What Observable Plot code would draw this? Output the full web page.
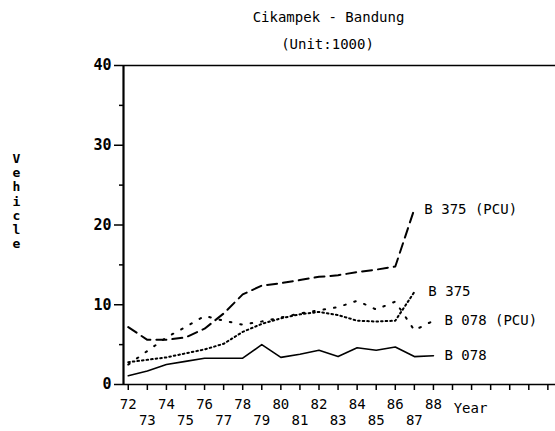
<!DOCTYPE html>
<html><head><meta charset="utf-8">
<script src="https://cdn.jsdelivr.net/npm/d3@7"></script>
<script src="https://cdn.jsdelivr.net/npm/@observablehq/plot@0.6"></script>
<style>
body{margin:0;background:#fff}
#chart svg{font-family:"DejaVu Sans Mono",monospace}
</style>
</head><body><div id="chart"></div>
<script>
const years = [72,73,74,75,76,77,78,79,80,81,82,83,84,85,86,87,88];
const b078    = [1.1,1.7,2.5,2.9,3.3,3.3,3.3,5.0,3.4,3.8,4.3,3.5,4.6,4.3,4.7,3.5,3.6];
const b078pcu = [2.5,4.2,5.9,7.2,8.6,8.0,7.5,7.9,8.4,8.9,9.3,9.7,10.5,9.4,10.4,6.8,8.0];
const b375    = [2.8,3.1,3.4,3.9,4.4,5.1,6.6,7.6,8.3,8.8,9.1,8.7,8.0,7.9,8.0,11.6];
const b375pcu = [7.2,5.6,5.6,5.9,7.0,8.9,11.3,12.4,12.7,13.1,13.5,13.7,14.1,14.4,14.8,22.0];
const seriesNames = ["B 375 (PCU)","B 375","B 078 (PCU)","B 078"];
const evenYearLabels = [72,74,76,78,80,82,84,86,88];
const oddYearLabels = [73,75,77,79,81,83,85,87];
const xTickValues = [72,73,74,75,76,77,78,79,80,81,82,83,84,85,86,87,88,89,90,91,92,93,94];
const yMajor = [0,10,20,30,40];
const yMinor = [5,15,25,35];
const title = "Cikampek - Bandung";
const subtitle = "(Unit:1000)";
const yLabel = "Vehicle";
const xLabel = "Year";

const mk = (vals, name) => vals.map((v,i)=>({year: years[i], value: v, series: name}));
const s375pcu = mk(b375pcu, seriesNames[0]);
const s375 = mk(b375, seriesNames[1]);
const s078pcu = mk(b078pcu, seriesNames[2]);
const s078 = mk(b078, seriesNames[3]);
const xDomain = [71.75, 94.4];

const lastLabel = (data, dx) => Plot.text(data, Plot.selectLast({x:"year", y:"value", text:"series", textAnchor:"start", dx, fontSize:14, fill:"#000"}));

const chart = Plot.plot({
  width: 555, height: 431,
  marginLeft: 123, marginRight: 0, marginTop: 65, marginBottom: 47,
  style: {fontFamily: "DejaVu Sans Mono, monospace", fontSize: "14px", color: "#000", background: "#fff"},
  x: {domain: xDomain, label: null},
  y: {domain: [0, 40], label: null},
  marks: [
    Plot.ruleY([0], {stroke:"#000", strokeWidth:1.6}),
    Plot.ruleY([40], {stroke:"#000", strokeWidth:1.6}),
    Plot.ruleX([xDomain[0]], {stroke:"#000", strokeWidth:2.2}),
    Plot.axisX(xTickValues, {tickSize:6, tickFormat: () => "", strokeWidth:1.5, label: null}),
    Plot.axisX(evenYearLabels, {tickSize:0, tickPadding:15, fontSize:14, label: null}),
    Plot.axisX(oddYearLabels, {tickSize:0, tickPadding:31, fontSize:14, label: null}),
    Plot.axisY(yMajor, {tickSize:9, tickPadding:3, fontSize:15, fontWeight:"bold", strokeWidth:1.5, label: null}),
    Plot.axisY(yMinor, {tickSize:4, tickFormat: () => "", strokeWidth:1.5, label: null}),
    Plot.line(s078, {x:"year", y:"value", stroke:"#000", strokeWidth:1.6}),
    Plot.line(s375pcu, {x:"year", y:"value", stroke:"#000", strokeWidth:2, strokeDasharray:"10,6"}),
    Plot.line(s375, {x:"year", y:"value", stroke:"#000", strokeWidth:2, strokeDasharray:"1.6,3", strokeLinecap:"round"}),
    Plot.line(s078pcu, {x:"year", y:"value", stroke:"#000", strokeWidth:2, strokeDasharray:"1.6,9", strokeLinecap:"round"}),
    lastLabel(s375pcu, 10),
    lastLabel(s375, 14),
    lastLabel(s078pcu, 11),
    lastLabel(s078, 11),
    Plot.text([xLabel], {frameAnchor:"bottom-right", dx:-85, dy:28, textAnchor:"middle", fontSize:14}),
    Plot.text([title], {frameAnchor:"top", dx:-11, dy:-53, fontSize:14}),
    Plot.text([subtitle], {frameAnchor:"top", dx:-12, dy:-26, fontSize:14}),
    Plot.text([yLabel.split("").join("\n")], {frameAnchor:"left", dx:-107, dy:-24, textAnchor:"middle", fontSize:13, fontWeight:"bold", lineHeight:1.1})
  ]
});
document.getElementById("chart").appendChild(chart);
</script>
</body></html>
